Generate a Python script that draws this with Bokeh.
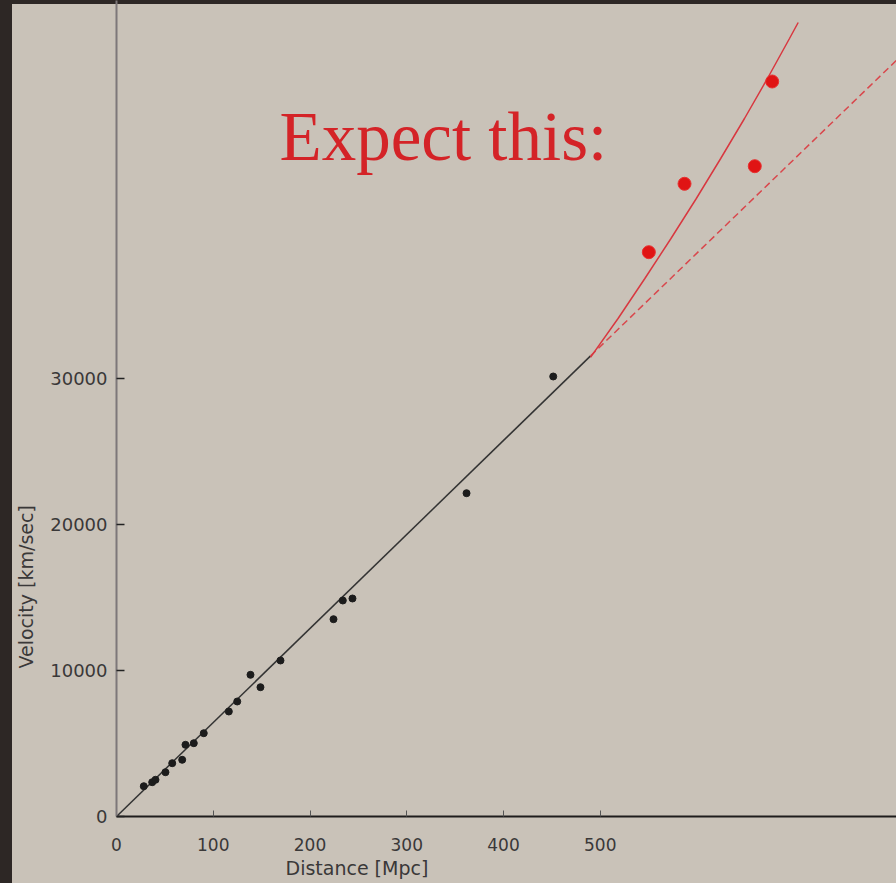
from bokeh.plotting import figure
from bokeh.models import Range1d, FixedTicker, Title
from bokeh.core.properties import value
from bokeh.embed import file_html
from bokeh.resources import INLINE

# Observed galaxies: distance [Mpc], velocity [km/s]
dist = [28.2, 36.9, 40.3, 50.6, 57.6, 67.9, 71.3, 79.9, 90.2, 116.1, 124.8,
        138.5, 148.8, 169.5, 224.3, 233.9, 243.9, 361.8, 451.4]
vel = [2075, 2349, 2514, 3034, 3651, 3884, 4911, 5021, 5705, 7192, 7877,
       9705, 8856, 10685, 13514, 14795, 14932, 22144, 30137]

# Linear Hubble fit and its extrapolation
fit_x = [0, 490]
fit_v = [0, 31550]
extrap_x = [490, 806]
extrap_v = [31550, 51780]

# Expected (accelerating) curve
curve_x = [489.9, 518.4, 546.1, 573.1, 599.3, 624.5, 649.1, 672.8, 695.6, 704.6]
curve_v = [31450, 34110, 36849, 39589, 42329, 45068, 47808, 50548, 53288, 54384]

# Expected distant points
far_x = [550.2, 587.1, 659.7, 677.7]
far_v = [38651, 43336, 44541, 50342]

x_ticks = [0, 100, 200, 300, 400, 500]
y_ticks = [0, 10000, 20000, 30000]

BG = "#c9c2b8"
DARK = "#2d2725"
TXT = "#3a3838"

p = figure(width=896, height=883, x_range=Range1d(0, 806.2), y_range=Range1d(0, 55890),
           output_backend="svg", toolbar_location=None,
           min_border_left=116, min_border_right=0, min_border_top=0, min_border_bottom=67)
p.background_fill_alpha = 0
p.border_fill_alpha = 0
p.outline_line_color = None
p.grid.visible = False

p.xaxis.ticker = FixedTicker(ticks=x_ticks)
p.xaxis.major_tick_in = 6
p.xaxis.major_tick_out = 0
p.xaxis.minor_tick_line_color = None
p.xaxis.axis_line_width = 2
p.xaxis.axis_line_color = "#1e1c1c"
p.xaxis.major_tick_line_color = "#555555"
p.xaxis.major_label_standoff = 21
p.xaxis.major_label_text_font = "DejaVu Sans"
p.xaxis.major_label_text_font_size = "17px"
p.xaxis.major_label_text_color = TXT

p.yaxis.ticker = FixedTicker(ticks=y_ticks)
p.yaxis.major_tick_in = 8
p.yaxis.major_tick_out = 0
p.yaxis.minor_tick_line_color = None
p.yaxis.axis_line_width = 2
p.yaxis.axis_line_color = "#7d7779"
p.yaxis.major_tick_line_color = "#222222"
p.yaxis.major_tick_line_width = 1.5
p.yaxis.major_label_standoff = 9
p.yaxis.major_label_text_font = "DejaVu Sans"
p.yaxis.major_label_text_font_size = "18px"
p.yaxis.major_label_text_color = TXT

p.line(fit_x, fit_v, line_color="#333333", line_width=1.5)
p.line(extrap_x, extrap_v, line_color="#d9474c", line_width=1.5, line_dash="7 4")
p.line(curve_x, curve_v, line_color="#d83840", line_width=1.5)
p.scatter(dist, vel, size=7, fill_color="#1c1c1c", line_color="#1c1c1c")
p.scatter(far_x, far_v, size=13, fill_color="#e01414", line_color="#e83030")

p.text(x=[168.5], y=[46507], text=["Expect this:"], text_font=value("Liberation Serif"),
       text_font_size="69px", text_color="#d42327", text_baseline="alphabetic", text_align="left")

p.add_layout(Title(text="Distance [Mpc]", align="left", offset=169, standoff=3,
                   text_font="DejaVu Sans", text_font_size="19px", text_font_style="normal",
                   text_color=TXT), "below")
p.add_layout(Title(text="Velocity [km/sec]", align="left", offset=148, standoff=21,
                   text_font="DejaVu Sans", text_font_size="19px", text_font_style="normal",
                   text_color=TXT), "left")

html = file_html(p, INLINE)
css = ("<style>html{height:100" + "%" + ";background:"
       + "linear-gradient(" + DARK + "," + DARK + ") top left/100" + "%" + " 4px no-repeat,"
       + "linear-gradient(" + DARK + "," + DARK + ") top left/12px 100" + "%" + " no-repeat,"
       + BG + ";}</style>")
html = html.replace("</head>", css + "</head>", 1)
open("out.html", "w").write(html)
